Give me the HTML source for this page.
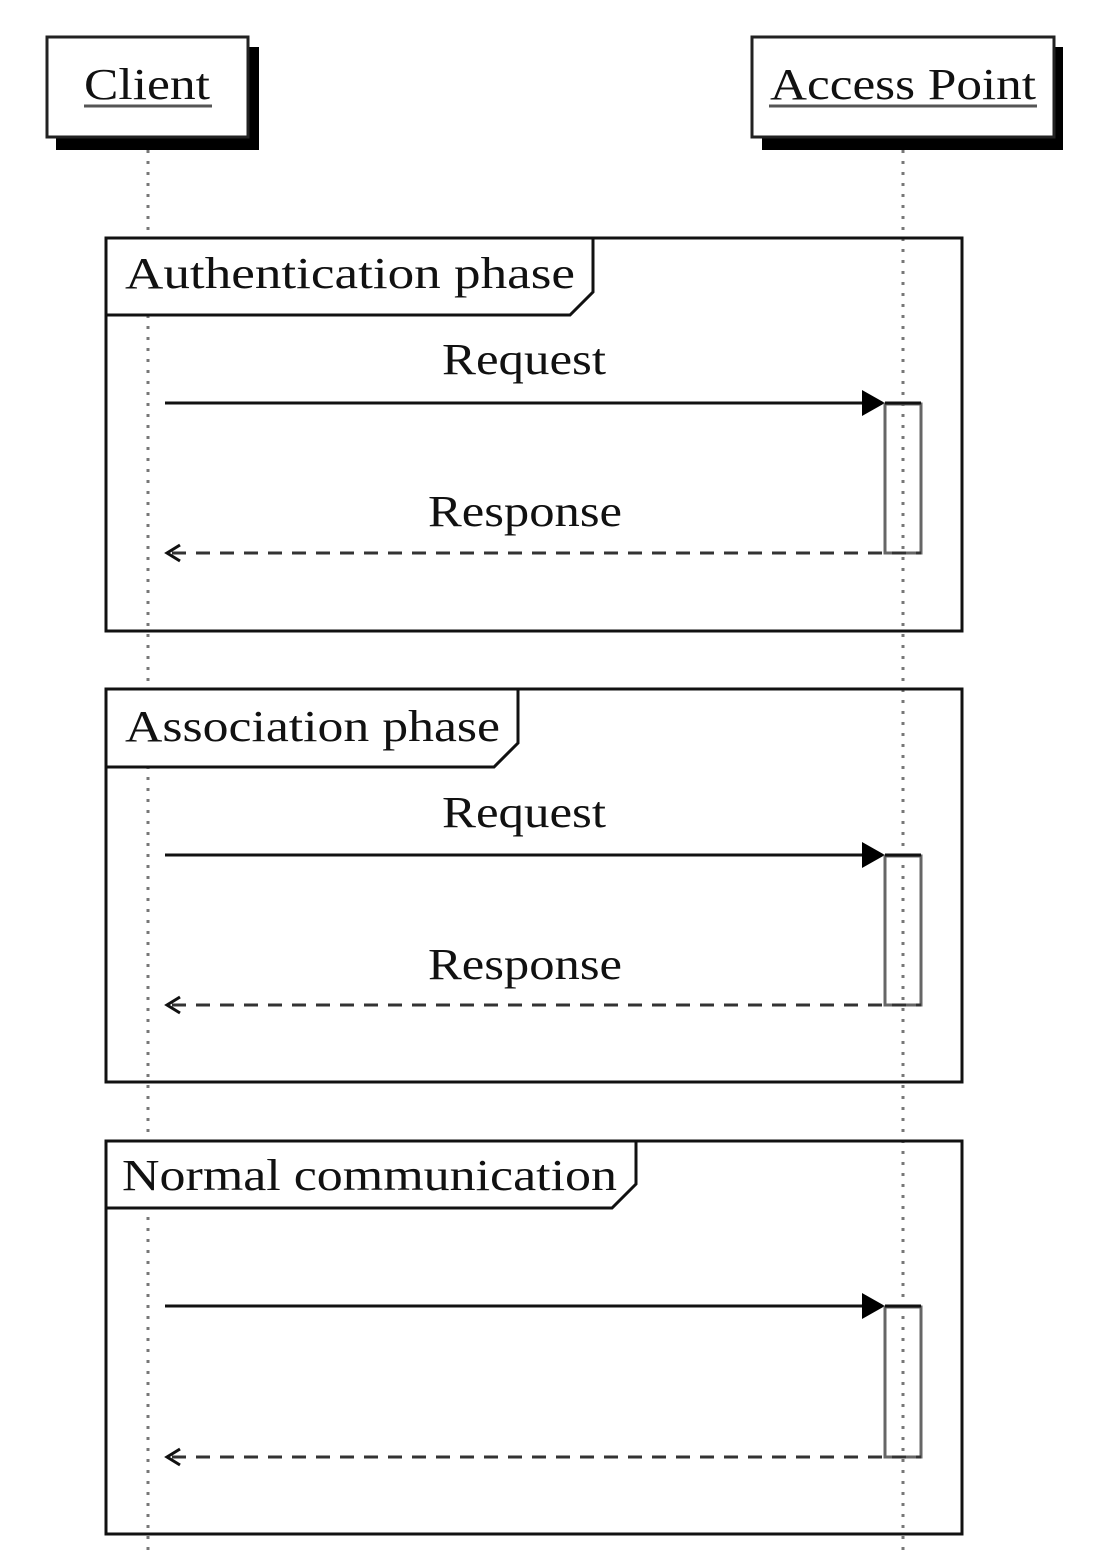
<!DOCTYPE html>
<html><head><meta charset="utf-8"><style>
html,body{margin:0;padding:0;background:#fff;}
svg{display:block;}
text{font-family:"Liberation Serif",serif;fill:#111;}
</style></head><body>
<svg width="1102" height="1554" viewBox="0 0 1102 1554" xmlns="http://www.w3.org/2000/svg">
<!-- lifelines -->
<line x1="148" y1="150" x2="148" y2="1554" stroke="#777" stroke-width="3" stroke-dasharray="3,8"/>
<line x1="903" y1="150" x2="903" y2="1554" stroke="#777" stroke-width="3" stroke-dasharray="3,8"/>
<!-- Client -->
<rect x="56" y="47" width="203" height="103" fill="#000"/>
<rect x="47" y="37" width="201" height="100" fill="#fff" stroke="#222" stroke-width="3"/>
<text x="84" y="99" font-size="44" textLength="126" lengthAdjust="spacingAndGlyphs">Client</text>
<line x1="84" y1="106" x2="212" y2="106" stroke="#555" stroke-width="3"/>
<!-- Access Point -->
<rect x="762" y="47" width="301" height="103" fill="#000"/>
<rect x="752" y="37" width="302" height="100" fill="#fff" stroke="#222" stroke-width="3"/>
<text x="770" y="99" font-size="44" textLength="266" lengthAdjust="spacingAndGlyphs">Access Point</text>
<line x1="769" y1="106" x2="1037" y2="106" stroke="#555" stroke-width="3"/>

<g>
<rect x="106" y="238" width="856" height="393" fill="none" stroke="#111" stroke-width="3"/>
<path d="M106 238 L106 315 L570 315 L593 292 L593 238 Z" fill="#fff" stroke="#111" stroke-width="3"/>
<text x="125" y="288" font-size="44" textLength="450" lengthAdjust="spacingAndGlyphs">Authentication phase</text>
<text x="442" y="374" font-size="44" textLength="164" lengthAdjust="spacingAndGlyphs">Request</text>
<line x1="165" y1="403" x2="870" y2="403" stroke="#111" stroke-width="3"/>
<polygon points="862,390 885,403 862,416" fill="#000"/>
<rect x="885" y="404" width="36" height="149" fill="none" stroke="#666" stroke-width="3"/>
<line x1="885" y1="403" x2="921" y2="403" stroke="#111" stroke-width="3"/>
<text x="428" y="526" font-size="44" textLength="194" lengthAdjust="spacingAndGlyphs">Response</text>
<line x1="172" y1="553" x2="921" y2="553" stroke="#333" stroke-width="3" stroke-dasharray="14,10"/>
<path d="M180 545 L167 553 L180 561" fill="none" stroke="#111" stroke-width="3"/>
</g>

<g>
<rect x="106" y="689" width="856" height="393" fill="none" stroke="#111" stroke-width="3"/>
<path d="M106 689 L106 767 L494 767 L518 743 L518 689 Z" fill="#fff" stroke="#111" stroke-width="3"/>
<text x="125" y="741" font-size="44" textLength="375" lengthAdjust="spacingAndGlyphs">Association phase</text>
<text x="442" y="827" font-size="44" textLength="164" lengthAdjust="spacingAndGlyphs">Request</text>
<line x1="165" y1="855" x2="870" y2="855" stroke="#111" stroke-width="3"/>
<polygon points="862,842 885,855 862,868" fill="#000"/>
<rect x="885" y="856" width="36" height="149" fill="none" stroke="#666" stroke-width="3"/>
<line x1="885" y1="855" x2="921" y2="855" stroke="#111" stroke-width="3"/>
<text x="428" y="979" font-size="44" textLength="194" lengthAdjust="spacingAndGlyphs">Response</text>
<line x1="172" y1="1005" x2="921" y2="1005" stroke="#333" stroke-width="3" stroke-dasharray="14,10"/>
<path d="M180 997 L167 1005 L180 1013" fill="none" stroke="#111" stroke-width="3"/>
</g>

<g>
<rect x="106" y="1141" width="856" height="393" fill="none" stroke="#111" stroke-width="3"/>
<path d="M106 1141 L106 1208 L612 1208 L636 1184 L636 1141 Z" fill="#fff" stroke="#111" stroke-width="3"/>
<text x="122" y="1190" font-size="44" textLength="495" lengthAdjust="spacingAndGlyphs">Normal communication</text>
<line x1="165" y1="1306" x2="870" y2="1306" stroke="#111" stroke-width="3"/>
<polygon points="862,1293 885,1306 862,1319" fill="#000"/>
<rect x="885" y="1307" width="36" height="150" fill="none" stroke="#666" stroke-width="3"/>
<line x1="885" y1="1306" x2="921" y2="1306" stroke="#111" stroke-width="3"/>
<line x1="172" y1="1457" x2="921" y2="1457" stroke="#333" stroke-width="3" stroke-dasharray="14,10"/>
<path d="M180 1449 L167 1457 L180 1465" fill="none" stroke="#111" stroke-width="3"/>
</g>
</svg>
</body></html>
